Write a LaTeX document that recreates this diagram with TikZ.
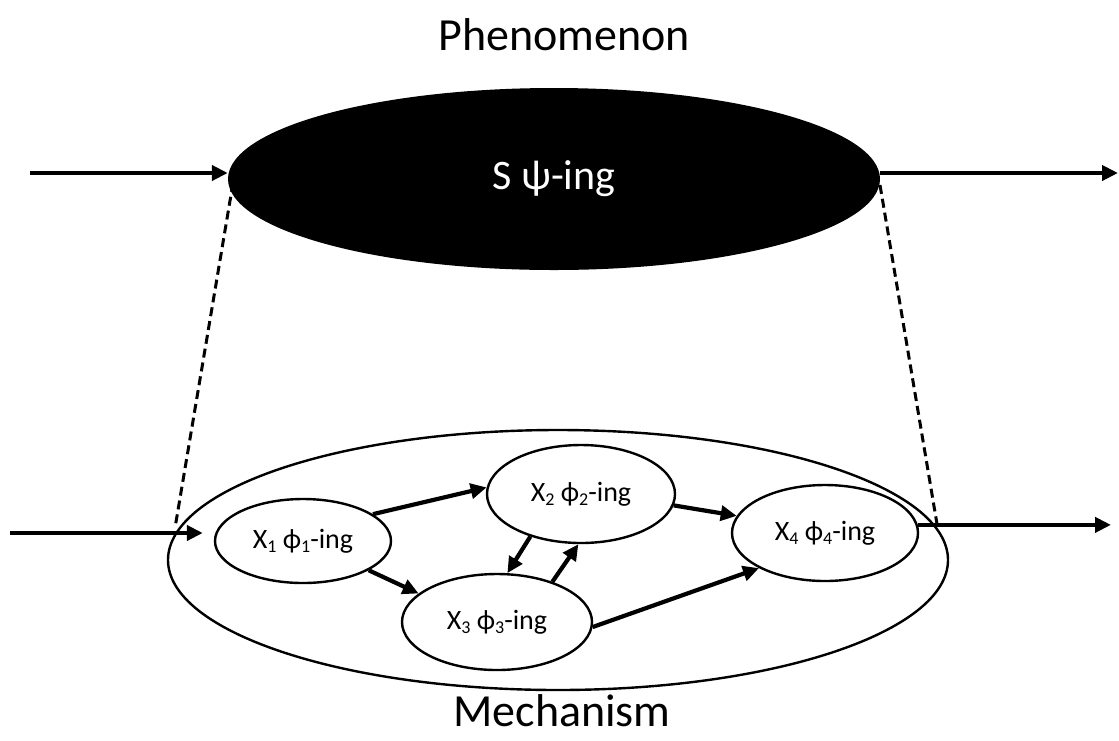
\documentclass[tikz,border=0pt]{standalone}
\usepackage{fontspec}
\setmainfont{Carlito}
\usetikzlibrary{arrows.meta,shapes.geometric}
\newcommand{\lsub}[1]{\raisebox{-0.3ex}{\fontsize{18}{18}\selectfont #1}}
\begin{document}
\begin{tikzpicture}[x=1pt,y=-1pt,
  arr/.style={line width=4.2pt,-{Triangle[length=16pt,width=15pt]}},
  dsh/.style={line width=3pt,dash pattern=on 9pt off 5pt},
  sm/.style={ellipse,draw,line width=2.4pt,inner sep=0pt,font=\fontsize{28}{28}\selectfont},
  big/.style={font=\fontsize{46}{46}\selectfont}]
\useasboundingbox (0,0) rectangle (1119,740);
\node[big] (title) at (564,35) {Phenomenon};
\node[big] (mtitle) at (562,711) {Mechanism};
\node[ellipse,fill=black,inner sep=0pt,minimum width=652pt,minimum height=182pt,
      text=white,font=\fontsize{42}{42}\selectfont] (phen) at (554,179) {S ψ-ing};
\node[ellipse,draw,line width=2.4pt,inner sep=0pt,minimum width=780pt,minimum height=260pt] (mech) at (558,560) {};
\node[sm,minimum width=176pt,minimum height=84pt] (x1) at (303,541) {X\lsub{1} ϕ\lsub{1}-ing};
\node[sm,minimum width=188pt,minimum height=98pt] (x2) at (581,494) {X\lsub{2} ϕ\lsub{2}-ing};
\node[sm,minimum width=190pt,minimum height=96pt] (x3) at (497,622) {X\lsub{3} ϕ\lsub{3}-ing};
\node[sm,minimum width=186pt,minimum height=96pt] (x4) at (825,533) {X\lsub{4} ϕ\lsub{4}-ing};
\coordinate (in1) at (30,173);
\coordinate (out1) at (1118,173);
\coordinate (in2) at (10,533);
\coordinate (out2) at (1111,525);
\coordinate (dl1) at (233,183);
\coordinate (dl2) at (175,528);
\coordinate (dr1) at (880,185);
\coordinate (dr2) at (938,530);
\draw[arr] (in1) -- (in1 -| phen.west);
\draw[arr] (out1 -| phen.east) -- (out1);
\draw[dsh] (dl1) -- (dl2);
\draw[dsh] (dr1) -- (dr2);
\draw[arr,shorten >=11pt] (in2) -- (in2 -| x1.west);
\draw[arr] (x4.5) -- (x4.5 -| out2);
\draw[arr] (x1.21) -- (x2.176);
\draw[arr] (x1.-24) -- (x3.160);
\draw[arr] (x2.-140) -- (x3.78);
\draw[arr] (x3.36) -- (x2.-93);
\draw[arr] (x2.-7) -- (x4.169);
\draw[arr] (x3.-3) -- (x4.-152);
\end{tikzpicture}
\end{document}
